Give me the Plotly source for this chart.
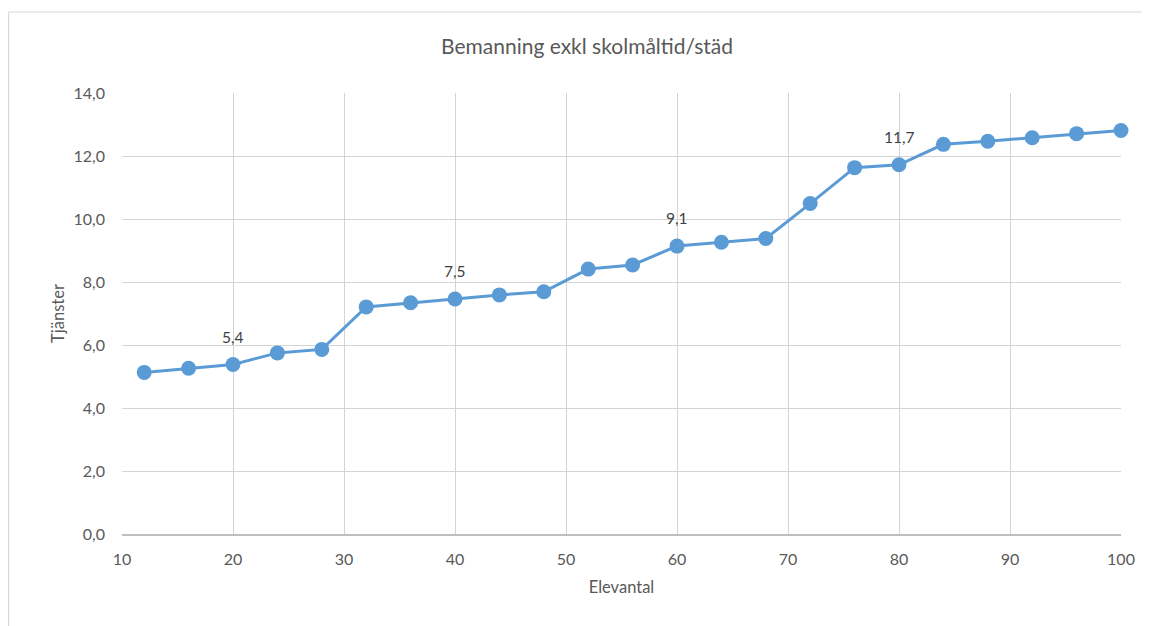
import plotly.graph_objects as go

elevantal = [12, 16, 20, 24, 28, 32, 36, 40, 44, 48, 52, 56, 60, 64, 68, 72, 76, 80, 84, 88, 92, 96, 100]
tjanster = [5.13, 5.26, 5.38, 5.75, 5.86, 7.21, 7.34, 7.46, 7.59, 7.69, 8.41, 8.54, 9.14, 9.26, 9.38,
            10.49, 11.63, 11.72, 12.37, 12.47, 12.58, 12.71, 12.81]
labelled_x = [20, 40, 60, 80]

FONT = "Lato, 'Open Sans', sans-serif"
GREY = "#595959"

fig = go.Figure()
fig.add_trace(go.Scatter(
    x=elevantal, y=tjanster, mode="lines+markers",
    line=dict(color="#5B9BD5", width=3),
    marker=dict(color="#5B9BD5", size=15),
    cliponaxis=False, hoverinfo="x+y", showlegend=False,
))

for x, v in zip(elevantal, tjanster):
    if x in labelled_x:
        fig.add_annotation(x=x, y=v, text=f"{v:.1f}".replace(".", ","), showarrow=False,
                           yshift=28, font=dict(family=FONT, size=15.5, color="#404040"))

# chart-area border (top and left edges visible)
fig.add_shape(type="line", xref="paper", yref="paper", x0=-0.1136, x1=1.3, y0=1.1837, y1=1.1837,
              line=dict(color="#d9d9d9", width=1.2), layer="below")
fig.add_shape(type="line", xref="paper", yref="paper", x0=-0.1136, x1=-0.1136, y0=-0.5, y1=1.1837,
              line=dict(color="#d9d9d9", width=1.5), layer="below")

fig.update_layout(
    width=1150, height=626,
    margin=dict(l=114, r=37, t=85, b=100),
    paper_bgcolor="white", plot_bgcolor="white",
    separators=", ",
    title=dict(text="Bemanning exkl skolmåltid/städ", x=0.5035, xref="container", xanchor="center",
               y=0.9377, yanchor="middle",
               font=dict(family=FONT, size=21, color=GREY)),
    font=dict(family=FONT, color=GREY),
    xaxis=dict(range=[10, 100], dtick=10, tick0=10, showgrid=True, gridcolor="#d4d4d4", gridwidth=1,
               showline=True, linecolor="#bfbfbf", linewidth=1.5, zeroline=False,
               ticks="", ticklabelstandoff=10, tickfont=dict(family=FONT, size=16, color=GREY),
               title=dict(text="Elevantal", font=dict(family=FONT, size=16.5, color=GREY), standoff=14)),
    yaxis=dict(range=[0, 14], dtick=2, tickformat=".1f", showgrid=True, gridcolor="#d4d4d4", gridwidth=1,
               showline=False, zeroline=False, ticks="", ticklabelstandoff=16,
               tickfont=dict(family=FONT, size=16, color=GREY),
               title=dict(text="Tjänster", font=dict(family=FONT, size=16.5, color=GREY), standoff=4)),
)

fig.write_html("out.html")
